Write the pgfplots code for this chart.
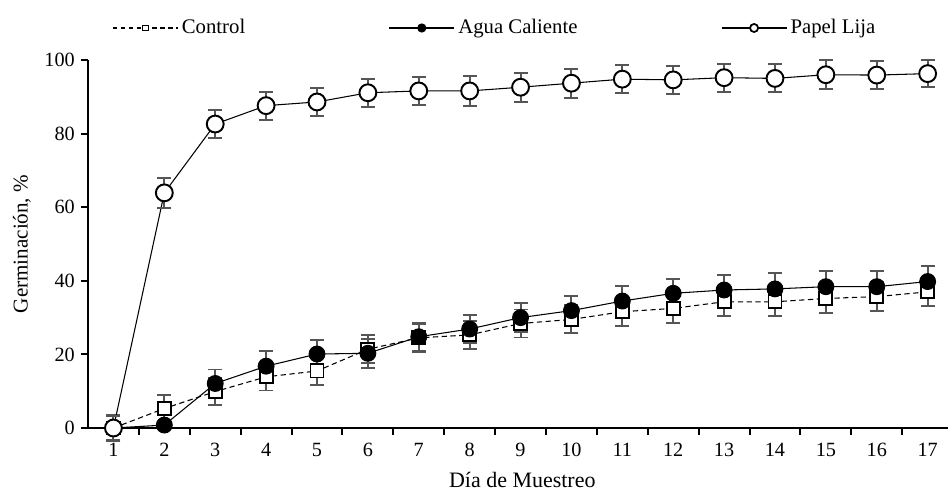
\documentclass[border=0pt]{standalone}
\usepackage{pgfplots}
\pgfplotsset{compat=1.18}
\usepackage{pgfplotstable}
\usepackage{fontspec}
\setmainfont{Liberation Serif}

\definecolor{errgray}{HTML}{555555}

% dia, germinacion (%), error
\pgfplotstableread{
x y e
1 0 3.5
2 5.3 3.6
3 9.9 3.7
4 13.9 3.7
5 15.5 3.8
6 21.4 3.8
7 24.5 3.8
8 25.3 3.8
9 28.4 3.8
10 29.5 3.8
11 31.6 3.8
12 32.5 3.9
13 34.3 3.9
14 34.3 3.9
15 35.2 3.9
16 35.7 3.9
17 37.0 3.9
}\control

\pgfplotstableread{
x y e
1 0 0.5
2 0.8 0.5
3 12.1 3.8
4 16.8 4.0
5 20.1 3.9
6 20.3 3.9
7 24.8 3.8
8 26.9 3.9
9 30.0 4.0
10 31.9 4.0
11 34.5 4.0
12 36.6 4.0
13 37.5 4.2
14 37.8 4.2
15 38.4 4.2
16 38.4 4.2
17 39.8 4.2
}\agua

\pgfplotstableread{
x y e
1 0 3.3
2 63.9 4.0
3 82.6 3.7
4 87.6 3.8
5 88.6 3.8
6 91.1 3.8
7 91.6 3.8
8 91.6 4.0
9 92.6 3.9
10 93.7 3.9
11 94.8 3.8
12 94.6 3.8
13 95.2 3.8
14 95.0 3.8
15 96.0 3.9
16 95.9 3.9
17 96.3 3.7
}\papel

\begin{document}
\begin{tikzpicture}
\useasboundingbox (0,0) rectangle (18.96cm,9.8cm);
\begin{axis}[
    at={(1.76cm,1.24cm)}, anchor=south west,
    scale only axis,
    width=17.2cm, height=7.36cm,
    xmin=0.5, xmax=17.4, ymin=0, ymax=100,
    clip=false,
    axis x line=bottom, axis y line=left,
    axis line style={-, line width=1.1pt},
    xtick={1,...,17},
    minor xtick={1.5,2.5,...,16.5},
    major x tick style={draw=none},
    minor x tick style={line width=1.1pt, black},
    minor tick length=0.14cm,
    ytick={0,20,...,100},
    y tick style={line width=1.1pt, black},
    major tick length=0.14cm,
    tick align=outside,
    xticklabel shift=0.04cm,
    ticklabel style={font=\fontsize{11.5}{13}\selectfont},
    /pgf/number format/assume math mode=true,
    xlabel={Día de Muestreo},
    ylabel={Germinación, \%},
    xlabel style={at={(axis description cs:0.505,-0.14)}, anchor=center, font=\fontsize{12.5}{14}\selectfont},
    ylabel style={at={(axis description cs:-0.0767,0.5)}, anchor=center, font=\fontsize{12}{14}\selectfont},
    legend columns=3,
    legend style={draw=none, fill=none, at={(0.0279,1.087)}, anchor=west,
        font=\fontsize{11.8}{13}\selectfont, inner sep=0pt,
        /tikz/every even column/.append style={column sep=2.8cm}},
    legend image code/.code={
        \draw[#1, mark=none] (0cm,0cm) -- (1.3cm,0cm);
        \draw[#1, solid] plot coordinates {(0.65cm,0cm)};
    },
    error bars/error bar style={errgray, line width=1.1pt, solid},
    error bars/error mark options={errgray, rotate=90, mark size=4pt, line width=1.1pt},
]
\addplot[forget plot, black, line width=0.6pt, dashed, dash pattern=on 3pt off 2pt,
    mark=square*, mark size=3.7pt, mark options={solid, fill=white, line width=1.1pt},
    error bars/.cd, y dir=both, y explicit]
    table[x=x, y=y, y error=e] {\control};
\addplot[forget plot, black, line width=0.6pt,
    mark=*, mark size=4.5pt, mark options={fill=black},
    error bars/.cd, y dir=both, y explicit]
    table[x=x, y=y, y error=e] {\agua};
\addplot[forget plot, black, line width=0.6pt,
    mark=*, mark size=4.8pt, mark options={fill=white, line width=1.1pt},
    error bars/.cd, y dir=both, y explicit]
    table[x=x, y=y, y error=e] {\papel};

\addlegendimage{black, line width=0.6pt, dash pattern=on 2.5pt off 2pt, mark=square*, mark size=1.6pt, mark options={fill=white, line width=0.6pt}}
\addlegendentry{Control}
\addlegendimage{black, line width=0.6pt, mark=*, mark size=2.3pt, mark options={fill=black}}
\addlegendentry{Agua Caliente}
\addlegendimage{black, line width=0.6pt, mark=*, mark size=2.3pt, mark options={fill=white, line width=1pt}}
\addlegendentry{Papel Lija}
\end{axis}
\end{tikzpicture}
\end{document}
